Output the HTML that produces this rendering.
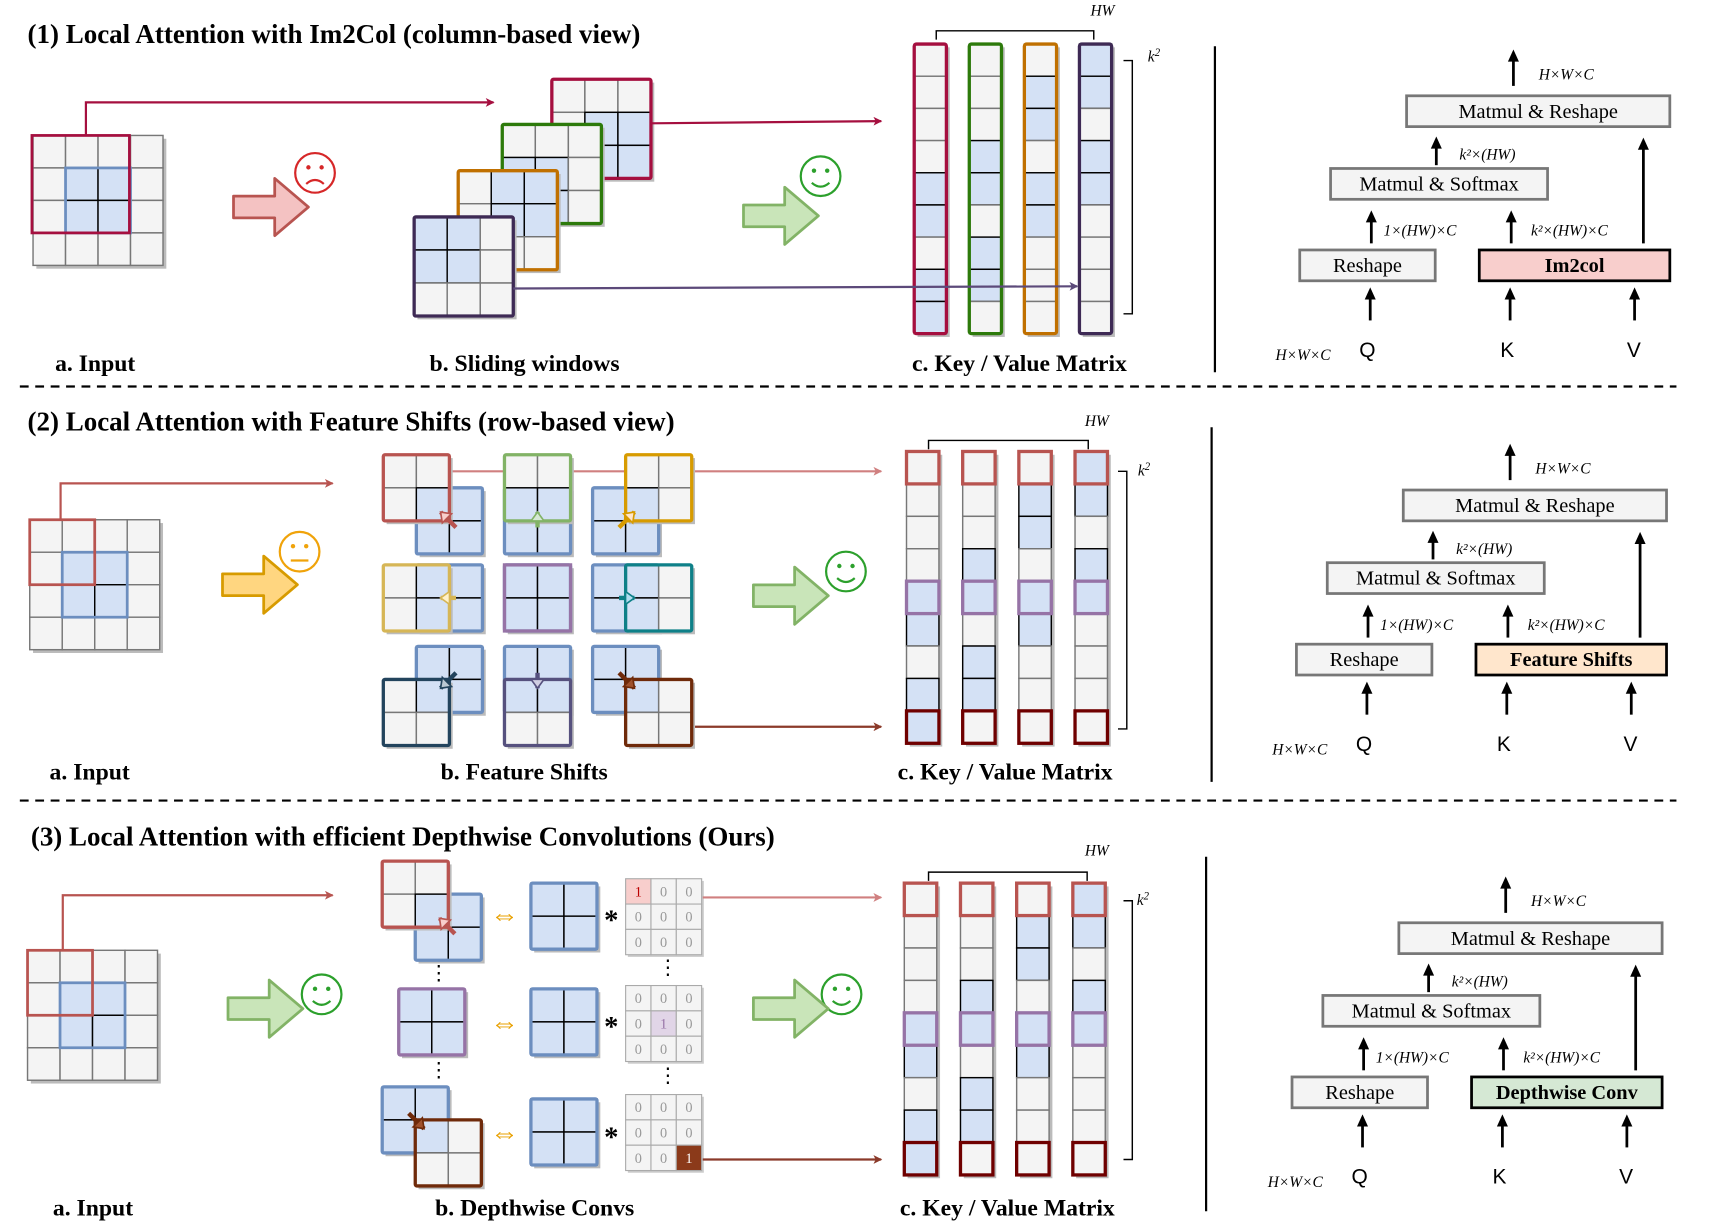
<!DOCTYPE html>
<html><head><meta charset="utf-8">
<style>
html,body{margin:0;padding:0;background:#fff;}
svg{display:block;}
text{font-family:"Liberation Serif",serif;}
.t{font-size:24.5px;font-weight:bold;}
.lb{font-size:21.5px;font-weight:bold;}
.bx{font-size:18.5px;}
.m{font-size:14px;font-style:italic;}
.q{font-family:"Liberation Sans",sans-serif;font-size:19px;}
</style></head><body>
<svg id="s" width="1726" height="1230" viewBox="0 0 1567 1117" preserveAspectRatio="none" xmlns="http://www.w3.org/2000/svg">
<defs>
<marker id="ah" markerWidth="8" markerHeight="8" refX="7" refY="4" orient="auto" markerUnits="userSpaceOnUse"><path d="M0,0 L8,4 L0,8 L2,4z" fill="context-stroke"/></marker>
</defs>
<g id="g"></g>
</svg>
<script>
const NS="http://www.w3.org/2000/svg";const G=document.getElementById('g');
function el(t,a,txt){const e=document.createElementNS(NS,t);for(const k in a)e.setAttribute(k,a[k]);if(txt!==undefined)e.textContent=txt;G.appendChild(e);return e;}
const W="#f4f4f4",B="#d4e1f5";
function line(x1,y1,x2,y2,c,w,arrow,dash){const a={x1,y1,x2,y2,stroke:c,'stroke-width':w||2};if(arrow)a['marker-end']='url(#ah)';if(dash)a['stroke-dasharray']=dash;el('line',a);}
function path(d,c,w,arrow){const a={d,stroke:c,'stroke-width':w||2,fill:'none'};if(arrow)a['marker-end']='url(#ah)';el('path',a);}
function grid(x,y,r,c,s,blue,sc,sw){el('rect',{x:x+3,y:y+3,width:c*s,height:r*s,fill:'#bbb'});
 for(let i=0;i<r;i++)for(let j=0;j<c;j++){const b=blue&&blue(i,j);el('rect',{x:x+j*s,y:y+i*s,width:s,height:s,fill:b?B:W,stroke:b?'#000':'#777','stroke-width':1.3});}
 if(sc)el('rect',{x,y,width:c*s,height:r*s,fill:'none',stroke:sc,'stroke-width':sw||3,rx:1.5});}
function txt(x,y,s,cls,extra){const a={x,y,class:cls};Object.assign(a,extra||{});el('text',a,s);}
function blockArrow(x,y,w,h,fill,stroke){const sh=h*0.38,hw=w*0.45;
 el('path',{d:`M${x},${y+h/2-sh/2} L${x+w-hw},${y+h/2-sh/2} L${x+w-hw},${y} L${x+w},${y+h/2} L${x+w-hw},${y+h} L${x+w-hw},${y+h/2+sh/2} L${x},${y+h/2+sh/2}Z`,fill,stroke,'stroke-width':2.5,'stroke-linejoin':'round'});}
function face(cx,cy,c,mood){el('circle',{cx,cy,r:18,fill:'none',stroke:c,'stroke-width':2});
 el('circle',{cx:cx-6,cy:cy-5,r:2,fill:c});el('circle',{cx:cx+6,cy:cy-5,r:2,fill:c});
 if(mood==1)path(`M${cx-8},${cy+6} Q${cx},${cy+13} ${cx+8},${cy+6}`,c,2);
 else if(mood==-1)path(`M${cx-8},${cy+10} Q${cx},${cy+3} ${cx+8},${cy+10}`,c,2);
 else line(cx-8,cy+8,cx+8,cy+8,c,2);}
function input(x,y){const s=29.5;grid(x,y,4,4,s,(i,j)=>i>=1&&i<=2&&j>=1&&j<=2);
 el('rect',{x:x+s,y:y+s,width:2*s,height:2*s,fill:'none',stroke:'#6c8ebf','stroke-width':2.5});
 return s;}
const pats=[[0,0,0,0,1,1,0,1,1],[0,0,0,1,1,0,1,1,0],[0,1,1,0,1,1,0,0,0],[1,1,0,1,1,0,0,0,0]];
function kv(x0,y0,dx,h,cols,mode){const s=h/9;
 for(let k=0;k<4;k++){const x=x0+k*dx;grid(x,y0,9,1,s,(i)=>pats[k][i]);
  if(mode==1)el('rect',{x,y:y0,width:s,height:h,fill:'none',stroke:cols[k],'stroke-width':3,rx:2});
  else{el('rect',{x,y:y0,width:s,height:s,fill:'none',stroke:'#b85450','stroke-width':3});
   el('rect',{x,y:y0+4*s,width:s,height:s,fill:'none',stroke:'#9673a6','stroke-width':3});
   el('rect',{x,y:y0+8*s,width:s,height:s,fill:'none',stroke:'#6f0000','stroke-width':3});}}
 return s;}
function brackets(x1,x2,ty,hx,hy,bx,by1,by2,kx,ky){path(`M${x1},${ty+8} L${x1},${ty} L${x2},${ty} L${x2},${ty+8}`,'#000',1.3);
 txt(hx,hy,'HW','m');path(`M${bx},${by1} L${bx+8},${by1} L${bx+8},${by2} L${bx},${by2}`,'#000',1.3);
 const t=el('text',{x:kx,y:ky,class:'m'},'k');const ts=document.createElementNS(NS,'tspan');ts.setAttribute('dy','-5');ts.setAttribute('font-size','10');ts.textContent='2';t.appendChild(ts);}
function box(x,y,w,h,s,fill,sc,sw,bold){el('rect',{x,y,width:w,height:h,fill,stroke:sc,'stroke-width':sw});
 el('text',{x:x+w/2,y:y+h/2+6,class:'bx','text-anchor':'middle','font-weight':bold?'bold':'normal'},s);}
function arr(x,y1,y2){line(x,y1,x,y2+2,'#000',2.5);el('path',{d:`M${x-5},${y2+10} L${x},${y2-1} L${x+5},${y2+10}Z`,fill:'#000'});}
function right(dx,dy,name,fill){const X=v=>v+dx,Y=v=>v+dy;
 box(X(1277),Y(87),239,28,'Matmul & Reshape','#f4f4f4','#777',2.5);
 box(X(1208),Y(153),197,28,'Matmul & Softmax','#f4f4f4','#777',2.5);
 box(X(1180),Y(227),123,28,'Reshape','#f4f4f4','#777',2.5);
 box(X(1343),Y(227),173,28,name,fill,'#000',2.5,true);
 arr(X(1374),Y(78),Y(46));txt(X(1397),Y(72),'H×W×C','m');
 arr(X(1304),Y(150),Y(125));txt(X(1325),Y(145),'k²×(HW)','m');
 arr(X(1245),Y(221),Y(192));txt(X(1256),Y(214),'1×(HW)×C','m');
 arr(X(1372),Y(221),Y(192));txt(X(1390),Y(214),'k²×(HW)×C','m');
 arr(X(1492),Y(221),Y(126));
 arr(X(1244),Y(291),Y(262));arr(X(1371),Y(291),Y(262));arr(X(1484),Y(291),Y(262));
 txt(X(1234),Y(324),'Q','q');txt(X(1362),Y(324),'K','q');txt(X(1477),Y(324),'V','q');
 txt(X(1158),Y(327),'H×W×C','m');}

/* ===== Section 1 ===== */
txt(25,39,'(1) Local Attention with Im2Col (column-based view)','t');
path('M78,122 L78,93 L448,93','#a50f3f',2,true);
input(30,123);
el('rect',{x:29,y:123,width:88.5,height:88.5,fill:'none',stroke:'#a50f3f','stroke-width':2.5});
face(286,157,'#d62728',-1);blockArrow(212,162,68,52,'#f4c2c2','#b85450');
const sw=30;
grid(501,72,3,3,sw,(i,j)=>i>=1&&j>=1,'#a50f3f');
grid(456,113,3,3,sw,(i,j)=>i>=1&&j<=1,'#2d7a0b');
grid(416,155,3,3,sw,(i,j)=>i<=1&&j>=1,'#c07000');
grid(376,197,3,3,sw,(i,j)=>i<=1&&j<=1,'#3e2a55');
line(591,112,800,110,'#a50f3f',2,true);
face(745,160,'#2ca02c',1);blockArrow(675,170,68,52,'#c9e5b9','#82b366');
kv(830,40,50,263,['#a50f3f','#2d7a0b','#c07000','#3e2a55'],1);
line(466,262,978,260,'#5c4a7a',2,true);
brackets(850,993,28,990,14,1020,55,285,1042,56);
txt(50,337,'a. Input','lb');txt(390,337,'b. Sliding windows','lb');txt(828,337,'c. Key / Value Matrix','lb');
line(1103,42,1103,338,'#000',2);
right(0,0,'Im2col','#f8cecc');
line(18,351,1522,351,'#000',2,false,'8,6');

/* ===== Section 2 ===== */
txt(25,391,'(2) Local Attention with Feature Shifts (row-based view)','t');
path('M55,472 L55,439 L302,439','#b85450',2,true);
input(27,472);
el('rect',{x:27,y:472,width:59,height:59,fill:'none',stroke:'#b85450','stroke-width':2.5});
face(272,501,'#f0a30a',0);blockArrow(202,505,68,52,'#ffd680','#d79b00');
line(408,428,800,428,'#d08080',2,true);
line(628,660,800,660,'#8b3a2a',2,true);
const fs=[[-1,-1,'#b85450','#f8cecc'],[0,-1,'#82b366','#d5e8d4'],[1,-1,'#d79b00','#ffe6cc'],
[-1,0,'#d6b656','#fff2cc'],[0,0,'#9673a6',''],[1,0,'#0e8088','#b1ddf0'],
[-1,1,'#23445d','#bac8d3'],[0,1,'#56517e','#d0cee2'],[1,1,'#6f2a0a','#a0522d']];
function shiftPair(bx,by,dx,dy,c,af){const s=30;
 grid(bx,by,2,2,s,()=>true,'#6c8ebf',3);
 if(dx==0&&dy==0){el('rect',{x:bx,y:by,width:60,height:60,fill:'none',stroke:c,'stroke-width':3});return;}
 const cx=bx+dx*s,cy=by+dy*s;
 grid(cx,cy,2,2,s,(i,j)=>{const px=cx+j*s+1,py=cy+i*s+1;return px>=bx&&px<bx+60&&py>=by&&py<by+60;},c,3);
 const mx=bx+30+dx*8,my=by+30+dy*8;
 const ex=mx+dx*(-14),ey=my+dy*(-14);
 line(ex,ey,mx,my,c,4);
 const ang=Math.atan2(dy,dx);const tx=mx,ty=my;
 const p=(a,r)=>[tx+Math.cos(ang+a)*r,ty+Math.sin(ang+a)*r];
 const a1=p(Math.PI*0.8,10),a2=p(-Math.PI*0.8,10);
 el('path',{d:`M${tx},${ty} L${a1[0]},${a1[1]} L${a2[0]},${a2[1]}Z`,fill:af,stroke:c,'stroke-width':1.5});}
const BX=[378,458,538],BY=[443,513,587];
fs.forEach((f,k)=>shiftPair(BX[k%3],BY[Math.floor(k/3)],f[0],f[1],f[2],f[3]));
face(768,519,'#2ca02c',1);blockArrow(684,515,68,52,'#c9e5b9','#82b366');
kv(823,410,51,265,null,2);
brackets(843,988,400,985,387,1015,428,662,1033,432);
txt(45,708,'a. Input','lb');txt(400,708,'b. Feature Shifts','lb');txt(815,708,'c. Key / Value Matrix','lb');
line(1100,388,1100,710,'#000',2);
right(-3,358,'Feature Shifts','#ffe6cc');
line(18,727,1522,727,'#000',2,false,'8,6');

/* ===== Section 3 ===== */
txt(28,768,'(3) Local Attention with efficient Depthwise Convolutions (Ours)','t');
path('M57,863 L57,813 L302,813','#b85450',2,true);
input(25,863);
el('rect',{x:25,y:863,width:59,height:59,fill:'none',stroke:'#b85450','stroke-width':2.5});
face(292,903,'#2ca02c',1);blockArrow(207,890,68,52,'#c9e5b9','#82b366');
face(764,903,'#2ca02c',1);blockArrow(684,890,68,52,'#c9e5b9','#82b366');
shiftPair(377,812,-1,-1,'#b85450','#f8cecc');
grid(362,898,2,2,30,()=>true,'#9673a6',3);
shiftPair(347,987,1,1,'#6f2a0a','#a0522d');
txt(389,890,'⋮','bx');txt(389,978,'⋮','bx');
[832,930,1030].forEach(y=>{el('text',{x:458,y:y+7,'text-anchor':'middle','font-size':26,fill:'#e8a000','font-family':'DejaVu Sans'},'⇔');});
[802,898,998].forEach(y=>grid(482,y,2,2,30,()=>true,'#6c8ebf',3));
[840,937,1037].forEach(y=>el('text',{x:555,y:y+4,'text-anchor':'middle','font-size':26,'font-weight':'bold'},'*'));
function kern(x,y,hi,hf,tc){const s=23;el('rect',{x:x+2,y:y+2,width:69,height:69,fill:'#ccc'});
 for(let i=0;i<3;i++)for(let j=0;j<3;j++){const h=(i*3+j)==hi;el('rect',{x:x+j*s,y:y+i*s,width:s,height:s,fill:h?hf:W,stroke:'#aaa','stroke-width':1});
 el('text',{x:x+j*s+s/2,y:y+i*s+16,'text-anchor':'middle','font-size':13,fill:h?tc:'#999','font-family':'Liberation Sans'},h?'1':'0');}}
kern(568,798,0,'#f8cecc','#b00');kern(568,895,4,'#e1d5e7','#9673a6');kern(568,994,8,'#8b3a1a','#fff');
txt(597,885,'⋮','bx');txt(597,983,'⋮','bx');
line(638,815,800,815,'#d08080',2,true);
line(638,1053,800,1053,'#8b3a2a',2,true);
kv(821,802,51,265,null,2);
brackets(843,987,792,985,777,1020,818,1053,1032,822);
txt(48,1104,'a. Input','lb');txt(395,1104,'b. Depthwise Convs','lb');txt(817,1104,'c. Key / Value Matrix','lb');
line(1095,778,1095,1100,'#000',2);
right(-7,751,'Depthwise Conv','#d5e8d4');
</script>
</body></html>
